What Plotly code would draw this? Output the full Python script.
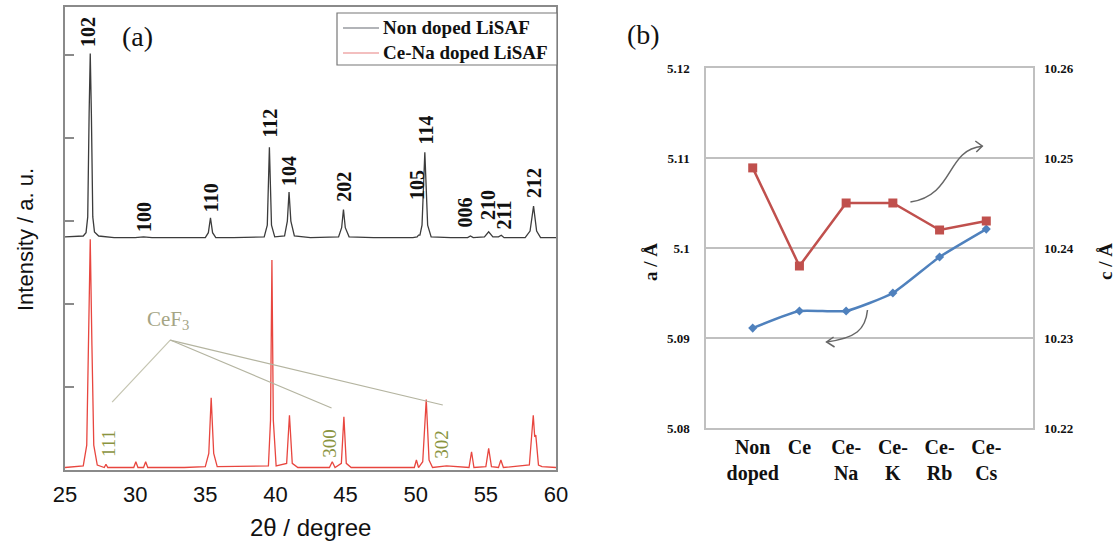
import plotly.graph_objects as go

# ---------------- Panel (a): XRD patterns ----------------
black_2theta = [25.0, 26.3, 26.5, 26.62, 26.72, 26.8, 26.88, 26.98, 27.1, 27.4, 28.5, 30.0, 30.6, 31.2,
                33.0, 35.0, 35.22, 35.37, 35.52, 35.75, 37.0, 39.2, 39.42, 39.57, 39.72, 39.95, 40.65,
                40.85, 40.97, 41.1, 41.35, 42.5, 44.5, 44.72, 44.85, 44.98, 45.25, 47.0, 49.8, 50.1,
                50.2, 50.3, 50.45, 50.65, 50.85, 51.1, 52.5, 53.7, 53.9, 54.1, 54.9, 55.2, 55.5, 55.9,
                56.1, 56.3, 57.8, 58.15, 58.4, 58.62, 58.9, 60.0]
black_int = [2.81, 2.82, 2.86, 3.05, 4.3, 5.02, 4.3, 3.05, 2.87, 2.82, 2.80, 2.80, 2.81, 2.80,
             2.80, 2.80, 2.86, 3.04, 2.86, 2.80, 2.80, 2.81, 2.95, 3.89, 2.95, 2.81, 2.82,
             3.00, 3.35, 3.00, 2.82, 2.80, 2.81, 2.92, 3.14, 2.92, 2.81, 2.80, 2.80, 2.81,
             2.83, 2.83, 2.95, 3.83, 2.95, 2.81, 2.80, 2.80, 2.82, 2.80, 2.81, 2.87, 2.81, 2.81,
             2.83, 2.80, 2.80, 2.88, 3.18, 2.88, 2.80, 2.80]

red_2theta = [25.0, 26.3, 26.55, 26.68, 26.8, 26.92, 27.05, 27.3, 27.8, 27.92, 28.05, 29.9, 30.05, 30.2,
              30.6, 30.75, 30.9, 33.5, 35.0, 35.25, 35.42, 35.6, 35.85, 39.5, 39.65, 39.75, 39.85, 40.05,
              40.8, 41.0, 41.2, 41.6, 43.85, 44.05, 44.25, 44.7, 44.88, 45.05, 45.2, 45.4, 49.9, 50.05,
              50.2, 50.5, 50.75, 50.95, 51.2, 52.2, 53.8, 53.98, 54.15, 55.0, 55.2, 55.4, 55.9, 56.07,
              56.25, 58.1, 58.38, 58.48, 58.56, 58.75, 59.0, 60.0]
red_int = [0.03, 0.05, 0.30, 1.50, 2.78, 1.50, 0.30, 0.06, 0.03, 0.07, 0.03, 0.03, 0.10, 0.03,
           0.03, 0.10, 0.03, 0.03, 0.04, 0.20, 0.87, 0.20, 0.04, 0.05, 0.60, 2.53, 0.60, 0.05,
           0.08, 0.66, 0.08, 0.03, 0.03, 0.10, 0.03, 0.08, 0.64, 0.08, 0.06, 0.03, 0.03, 0.12,
           0.03, 0.10, 0.85, 0.12, 0.03, 0.05, 0.03, 0.22, 0.03, 0.04, 0.26, 0.04, 0.03, 0.12,
           0.03, 0.06, 0.66, 0.40, 0.42, 0.06, 0.04, 0.03]

xrd_ticks = [25, 30, 35, 40, 45, 50, 55, 60]
series_names = ["Non doped LiSAF", "Ce-Na doped LiSAF"]

peak_labels = ["102", "100", "110", "112", "104", "202", "105", "114", "006", "210", "211", "212"]
peak_label_x = [26.64, 30.64, 35.36, 39.64, 41.0, 44.86, 50.14, 50.71, 53.5, 55.21, 56.29, 58.43]
peak_label_y = [5.28, 3.05, 3.28, 4.18, 3.61, 3.41, 3.43, 4.10, 3.10, 3.19, 3.08, 3.46]

cef3_labels = ["111", "300", "302"]
cef3_label_x = [28.07, 43.79, 51.79]
cef3_label_y = [0.313, 0.325, 0.313]

# ---------------- Panel (b): lattice parameters ----------------
samples = ["Non<br>doped", "Ce", "Ce-<br>Na", "Ce-<br>K", "Ce-<br>Rb", "Ce-<br>Cs"]
a_values = [5.0911, 5.093, 5.093, 5.095, 5.099, 5.1021]
c_values = [10.2489, 10.238, 10.245, 10.245, 10.242, 10.243]
a_ticks = [5.08, 5.09, 5.10, 5.11, 5.12]
a_ticktext = ["5.08", "5.09", "5.1", "5.11", "5.12"]
c_ticks = [10.22, 10.23, 10.24, 10.25, 10.26]
c_ticktext = ["10.22", "10.23", "10.24", "10.25", "10.26"]
sample_pos = list(range(len(samples)))

SERIF = "Liberation Serif"
SANS = "Liberation Sans"
BLACK_C = "#3c3c3c"
RED_C = "#e8463f"

fig = go.Figure()

fig.add_trace(go.Scatter(x=red_2theta, y=red_int, mode="lines", name=series_names[1], showlegend=False,
                         line=dict(color=RED_C, width=1.3), xaxis="x", yaxis="y"))
fig.add_trace(go.Scatter(x=black_2theta, y=black_int, mode="lines", name=series_names[0], showlegend=False,
                         line=dict(color=BLACK_C, width=1.3), xaxis="x", yaxis="y"))

fig.add_trace(go.Scatter(x=sample_pos, y=a_values, mode="lines+markers", showlegend=False,
                         line=dict(color="#4f81bd", width=2.5, shape="spline", smoothing=0.5),
                         marker=dict(symbol="diamond", size=7, color="#4f81bd"),
                         xaxis="x2", yaxis="y2"))
fig.add_trace(go.Scatter(x=sample_pos, y=c_values, mode="lines+markers", showlegend=False,
                         line=dict(color="#c0504d", width=2.5),
                         marker=dict(symbol="square", size=9, color="#c0504d"),
                         xaxis="x2", yaxis="y3"))

W, H = 1118, 545


def px(x):
    return x / W


def py(y):
    return 1 - y / H


ann = []
for t, x, y in zip(peak_labels, peak_label_x, peak_label_y):
    ann.append(dict(x=x, y=y, xref="x", yref="y", text="<b>%s</b>" % t, showarrow=False,
                    xanchor="center", yanchor="middle",
                    textangle=-90, font=dict(family=SERIF, size=20, color="#111")))
for t, x, y in zip(cef3_labels, cef3_label_x, cef3_label_y):
    ann.append(dict(x=x, y=y, xref="x", yref="y", text=t, showarrow=False,
                    xanchor="center", yanchor="middle",
                    textangle=-90, font=dict(family=SERIF, size=19, color="#8a9440")))
ann.append(dict(x=32.36, y=1.807, xref="x", yref="y", text="CeF<sub>3</sub>", showarrow=False,
                xanchor="center", yanchor="middle",
                font=dict(family=SERIF, size=21, color="#a5a585")))


def pann(x, y, text, size, family, angle=0, xanchor="center"):
    return dict(x=px(x), y=py(y), xref="paper", yref="paper", text=text, showarrow=False,
                xanchor=xanchor, yanchor="middle", textangle=angle,
                font=dict(family=family, size=size, color="#111"))


ann += [
    pann(137, 37, "(a)", 28, SERIF),
    pann(643, 34, "(b)", 28, SERIF),
    pann(25, 240, "Intensity / a. u.", 22, SANS, -90),
    pann(310, 527, "2θ / degree", 24, SANS),
    pann(650, 262, "<b>a / Å</b>", 19, SERIF, -90),
    pann(1105, 262, "<b>c / Å</b>", 19, SERIF, -90),
    # manual legend texts
    pann(381, 27, "<b>%s</b>" % series_names[0], 19, SERIF, 0, "left"),
    pann(381, 52, "<b>%s</b>" % series_names[1], 19, SERIF, 0, "left"),
]

ARROW = dict(color="#666", width=1.5)
shapes = [
    # CeF3 pointer lines
    dict(type="line", xref="x", yref="y", x0=32.5, y0=1.566, x1=28.36, y1=0.819,
         line=dict(color="#c4c4b0", width=1.2)),
    dict(type="line", xref="x", yref="y", x0=32.5, y0=1.566, x1=44.0, y1=0.747,
         line=dict(color="#b4b4a0", width=1.2)),
    dict(type="line", xref="x", yref="y", x0=32.5, y0=1.566, x1=51.93, y1=0.783,
         line=dict(color="#b4b4a0", width=1.2)),
    # curved arrows in panel (b) (to right axis / to left axis)
    dict(type="path", xref="x2", yref="y2",
         path="M 3.376 5.1051 C 4.338 5.1059, 4.124 5.1109, 4.915 5.1113", line=ARROW),
    dict(type="path", xref="x2", yref="y2",
         path="M 4.765 5.11189 L 4.915 5.11133 L 4.786 5.11067", line=ARROW),
    dict(type="path", xref="x2", yref="y2",
         path="M 2.457 5.09311 C 2.415 5.09089, 2.201 5.0900, 1.581 5.08956", line=ARROW),
    dict(type="path", xref="x2", yref="y2",
         path="M 1.731 5.09011 L 1.581 5.08956 L 1.752 5.0890", line=ARROW),
    # manual legend box and samples
    dict(type="rect", xref="paper", yref="paper", x0=px(337), x1=px(557), y0=py(65), y1=py(13),
         line=dict(color="#777", width=1.2), fillcolor="white", layer="above"),
    dict(type="line", xref="paper", yref="paper", x0=px(343), x1=px(379), y0=py(28), y1=py(28),
         line=dict(color="#666a72", width=1.2)),
    dict(type="line", xref="paper", yref="paper", x0=px(343), x1=px(379), y0=py(53), y1=py(53),
         line=dict(color="#e88080", width=1.2)),
]

fig.update_layout(
    width=W, height=H, autosize=False,
    margin=dict(l=0, r=0, t=0, b=0, pad=0, autoexpand=False),
    paper_bgcolor="white", plot_bgcolor="white",
    showlegend=False,
    xaxis=dict(domain=[px(65), px(556)], range=[25, 60], tickvals=xrd_ticks, automargin=False,
               ticks="", showgrid=False, zeroline=False, showline=True, mirror=True,
               linecolor="#8a8a8a", linewidth=1.5, anchor="y",
               tickfont=dict(family=SANS, size=22, color="#111"), ticklabelstandoff=4),
    yaxis=dict(domain=[py(470), py(7)], range=[0, 5.58], tickvals=[1, 2, 3, 4, 5],
               showticklabels=False, ticks="inside", ticklen=9, tickcolor="#8a8a8a", tickwidth=1.5,
               showgrid=False, zeroline=False, showline=True, mirror=True, automargin=False,
               linecolor="#8a8a8a", linewidth=1.5, anchor="x"),
    xaxis2=dict(domain=[px(706), px(1033)], range=[-1, 6], tickvals=sample_pos,
                ticktext=["<b>%s</b>" % s for s in samples], automargin=False,
                ticks="", showgrid=False, zeroline=False, showline=True, mirror=True,
                linecolor="#c0c0c0", linewidth=1.5, anchor="y2",
                tickfont=dict(family=SERIF, size=20, color="#111"), ticklabelstandoff=0),
    yaxis2=dict(domain=[py(428), py(68)], range=[5.08, 5.12], tickvals=a_ticks,
                ticktext=["<b>%s</b>" % t for t in a_ticktext], automargin=False,
                ticks="", showgrid=True, gridcolor="#c0c0c0", gridwidth=1.5, zeroline=False,
                showline=True, mirror=True, linecolor="#c0c0c0", linewidth=1.5, anchor="x2",
                tickfont=dict(family=SERIF, size=13, color="#111"), ticklabelstandoff=12),
    yaxis3=dict(overlaying="y2", side="right", range=[10.22, 10.26], tickvals=c_ticks,
                ticktext=["<b>%s</b>" % t for t in c_ticktext], automargin=False,
                ticks="", showgrid=False, zeroline=False, anchor="x2",
                tickfont=dict(family=SERIF, size=13, color="#111"), ticklabelstandoff=10),
    annotations=ann,
    shapes=shapes,
)

fig.write_html("out.html", config={"displayModeBar": False},
               post_script="document.body.style.margin='0px';document.body.style.padding='0px';")
